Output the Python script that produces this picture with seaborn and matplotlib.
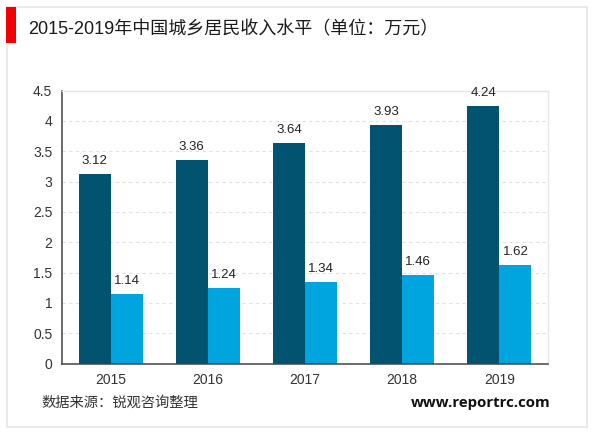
import matplotlib
matplotlib.use("Agg")
import matplotlib.pyplot as plt
from matplotlib.patches import Rectangle
import pandas as pd
import seaborn as sns

years = ["2015", "2016", "2017", "2018", "2019"]
urban = [3.12, 3.36, 3.64, 3.93, 4.24]
rural = [1.14, 1.24, 1.34, 1.46, 1.62]
y_ticks = [0, 0.5, 1, 1.5, 2, 2.5, 3, 3.5, 4, 4.5]
y_labels = ["0", "0.5", "1", "1.5", "2", "2.5", "3", "3.5", "4", "4.5"]

sns.set_theme(style="white")
plt.rcParams['font.family'] = ['Liberation Sans', 'Noto Sans CJK SC', 'DejaVu Sans']

W, H = 600, 433
fig = plt.figure(figsize=(W / 100, H / 100), dpi=100, facecolor="white")

# 外框和红色标记
fig.add_artist(Rectangle((6.5 / W, 1 - 427 / H), 580 / W, 420.5 / H, transform=fig.transFigure,
                         fill=False, edgecolor="#e6e6e6", linewidth=1.2))
fig.add_artist(Rectangle((6 / W, 1 - 43 / H), 10 / W, 36 / H, transform=fig.transFigure,
                         facecolor="#f00000", edgecolor="none", zorder=3))

ax = fig.add_axes([62 / W, 1 - 363.5 / H, 486 / W, 273 / H])

df = pd.DataFrame({
    "year": years * 2,
    "value": urban + rural,
    "group": ["城镇"] * 5 + ["农村"] * 5,
})
sns.barplot(data=df, x="year", y="value", hue="group", palette=["#02536f", "#00a5df"],
            width=0.66, gap=0, saturation=1, legend=False, edgecolor="none", linewidth=0,
            ax=ax, zorder=2)

for c in ax.containers:
    ax.bar_label(c, fmt="%.2f", padding=5, fontsize=9.5, color="#222222")

ax.set_ylim(0, 4.5)
ax.set_xlim(-0.5, 4.5)
ax.set_yticks(y_ticks)
ax.set_yticklabels(y_labels, fontsize=10, color="#333333")
ax.tick_params(axis="x", labelsize=10, labelcolor="#333333", length=0, pad=7)
ax.tick_params(axis="y", length=0, pad=7)
ax.set_xlabel("")
ax.set_ylabel("")

ax.grid(axis="y", color="#e2e2e2", linestyle=(0, (3, 3)), linewidth=0.8, zorder=0)
ax.set_axisbelow(True)
for side in ["top", "right"]:
    ax.spines[side].set_color("#e6e6e6")
    ax.spines[side].set_linewidth(1)
for side in ["left", "bottom"]:
    ax.spines[side].set_color("#444444")
    ax.spines[side].set_linewidth(1.1)

fig.text(28 / W, 1 - 30 / H, "2015-2019年中国城乡居民收入水平（单位：万元）", fontsize=13,
         color="#1a1a1a", va="center", ha="left")
fig.text(41 / W, 1 - 403 / H, "数据来源：锐观咨询整理", fontsize=10.3, color="#333333",
         va="center", ha="left")
fig.text(411 / W, 1 - 403 / H, "www.reportrc.com", fontsize=10.8, color="#111111",
         fontweight="bold", family=["Open Sans", "DejaVu Sans"], va="center", ha="left")

fig.savefig("out.png", dpi=100)
